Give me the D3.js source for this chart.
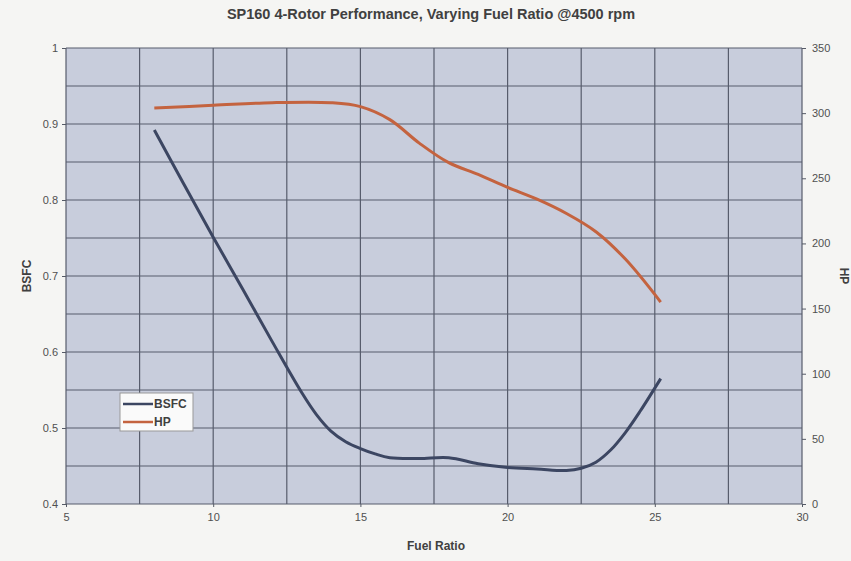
<!DOCTYPE html>
<html>
<head>
<meta charset="utf-8">
<script src="https://cdn.jsdelivr.net/npm/d3@7"></script>
<style>
  body { margin: 0; background: #f5f5f3; }
  svg { display: block; font-family: "Liberation Sans", Arial, sans-serif; }
  .tick text { fill: #505050; font-size: 11px; }
  .axis path, .axis line { stroke: #555a66; }
  .title { font-weight: bold; font-size: 14.5px; fill: #404040; }
  .axis-label { font-weight: bold; font-size: 12px; fill: #404040; }
</style>
</head>
<body>
<svg width="851" height="561"></svg>
<script>
// fuel ratio vs BSFC (left axis)
var bsfcRatio = [8, 9, 10, 11, 12, 13, 13.5, 14, 14.5, 15, 15.5, 16, 17, 18, 19, 20, 21, 22, 22.5, 23, 23.5, 24, 24.5, 25.2];
var bsfcValues = [0.892, 0.821, 0.751, 0.683, 0.614, 0.547, 0.518, 0.496, 0.482, 0.473, 0.466, 0.461, 0.460, 0.461, 0.453, 0.448, 0.446, 0.444, 0.447, 0.455, 0.471, 0.494, 0.522, 0.565];

// fuel ratio vs HP (right axis)
var hpRatio = [8, 10, 12, 14, 15, 16, 17, 18, 19, 20, 21, 22, 23, 24, 25.2];
var hpValues = [304, 306, 308, 308, 305, 295, 277, 262, 253, 243, 234, 223, 209, 188, 155];

var xTicks = [5, 10, 15, 20, 25, 30];
var bsfcTicks = [0.4, 0.5, 0.6, 0.7, 0.8, 0.9, 1];
var hpTicks = [0, 50, 100, 150, 200, 250, 300, 350];

var svg = d3.select("svg"),
    margin = {top: 48, right: 49, bottom: 57, left: 66},
    width = +svg.attr("width") - margin.left - margin.right,
    height = +svg.attr("height") - margin.top - margin.bottom;

var x = d3.scaleLinear().domain([5, 30]).range([0, width]);
var yL = d3.scaleLinear().domain([0.4, 1]).range([height, 0]);
var yR = d3.scaleLinear().domain([0, 350]).range([height, 0]);

var chart = svg.append("g")
    .attr("transform", "translate(" + margin.left + "," + margin.top + ")");

// plot background
chart.append("rect")
    .attr("width", width)
    .attr("height", height)
    .attr("fill", "#c8cddc");

// grid: every 2.5 on x, every 0.05 on y
chart.selectAll(".vgrid")
    .data(d3.range(5, 30.01, 2.5))
  .enter().append("line")
    .attr("x1", function(d) { return x(d); })
    .attr("x2", function(d) { return x(d); })
    .attr("y1", 0)
    .attr("y2", height)
    .attr("stroke", "#575c6c")
    .attr("stroke-width", 1.2);

chart.selectAll(".hgrid")
    .data(d3.range(0.4, 1.001, 0.05))
  .enter().append("line")
    .attr("x1", 0)
    .attr("x2", width)
    .attr("y1", function(d) { return yL(d); })
    .attr("y2", function(d) { return yL(d); })
    .attr("stroke", "#575c6c")
    .attr("stroke-width", 1.2);

// axes
chart.append("g")
    .attr("class", "axis")
    .attr("transform", "translate(0," + height + ")")
    .call(d3.axisBottom(x).tickValues(xTicks).tickSize(3).tickPadding(6))
    .call(function(g) { g.select(".domain").remove(); });

chart.append("g")
    .attr("class", "axis")
    .call(d3.axisLeft(yL).tickValues(bsfcTicks).tickFormat(d3.format("")).tickSize(4).tickPadding(4))
    .call(function(g) { g.select(".domain").remove(); });

chart.append("g")
    .attr("class", "axis")
    .attr("transform", "translate(" + width + ",0)")
    .call(d3.axisRight(yR).tickValues(hpTicks).tickSize(4).tickPadding(6))
    .call(function(g) { g.select(".domain").remove(); });

// lines
var bsfcLine = d3.line()
    .x(function(d, i) { return x(bsfcRatio[i]); })
    .y(function(d) { return yL(d); })
    .curve(d3.curveCatmullRom.alpha(0.5));

var hpLine = d3.line()
    .x(function(d, i) { return x(hpRatio[i]); })
    .y(function(d) { return yR(d); })
    .curve(d3.curveCatmullRom.alpha(0.5));

chart.append("path")
    .datum(bsfcValues)
    .attr("d", bsfcLine)
    .attr("fill", "none")
    .attr("stroke", "#3c4662")
    .attr("stroke-width", 3);

chart.append("path")
    .datum(hpValues)
    .attr("d", hpLine)
    .attr("fill", "none")
    .attr("stroke", "#c4633f")
    .attr("stroke-width", 3);

// legend
var legend = svg.append("g").attr("transform", "translate(120,393)");
legend.append("rect")
    .attr("width", 73)
    .attr("height", 38)
    .attr("fill", "#fafafa")
    .attr("stroke", "#999");
var items = [{name: "BSFC", color: "#3c4662"}, {name: "HP", color: "#c4633f"}];
items.forEach(function(d, i) {
  legend.append("line")
      .attr("x1", 3).attr("x2", 33)
      .attr("y1", 11 + i * 18).attr("y2", 11 + i * 18)
      .attr("stroke", d.color)
      .attr("stroke-width", 2.5);
  legend.append("text")
      .attr("x", 34)
      .attr("y", 15 + i * 18)
      .attr("font-size", "12px")
      .attr("font-weight", "bold")
      .attr("fill", "#404040")
      .text(d.name);
});

// titles
svg.append("text")
    .attr("class", "title")
    .attr("x", 431)
    .attr("y", 19)
    .attr("text-anchor", "middle")
    .text("SP160 4-Rotor Performance, Varying Fuel Ratio @4500 rpm");

svg.append("text")
    .attr("class", "axis-label")
    .attr("x", 436)
    .attr("y", 550)
    .attr("text-anchor", "middle")
    .text("Fuel Ratio");

svg.append("text")
    .attr("class", "axis-label")
    .attr("transform", "translate(31,276) rotate(-90)")
    .attr("text-anchor", "middle")
    .text("BSFC");

svg.append("text")
    .attr("class", "axis-label")
    .attr("transform", "translate(840,276) rotate(90)")
    .attr("text-anchor", "middle")
    .text("HP");
</script>
</body>
</html>
